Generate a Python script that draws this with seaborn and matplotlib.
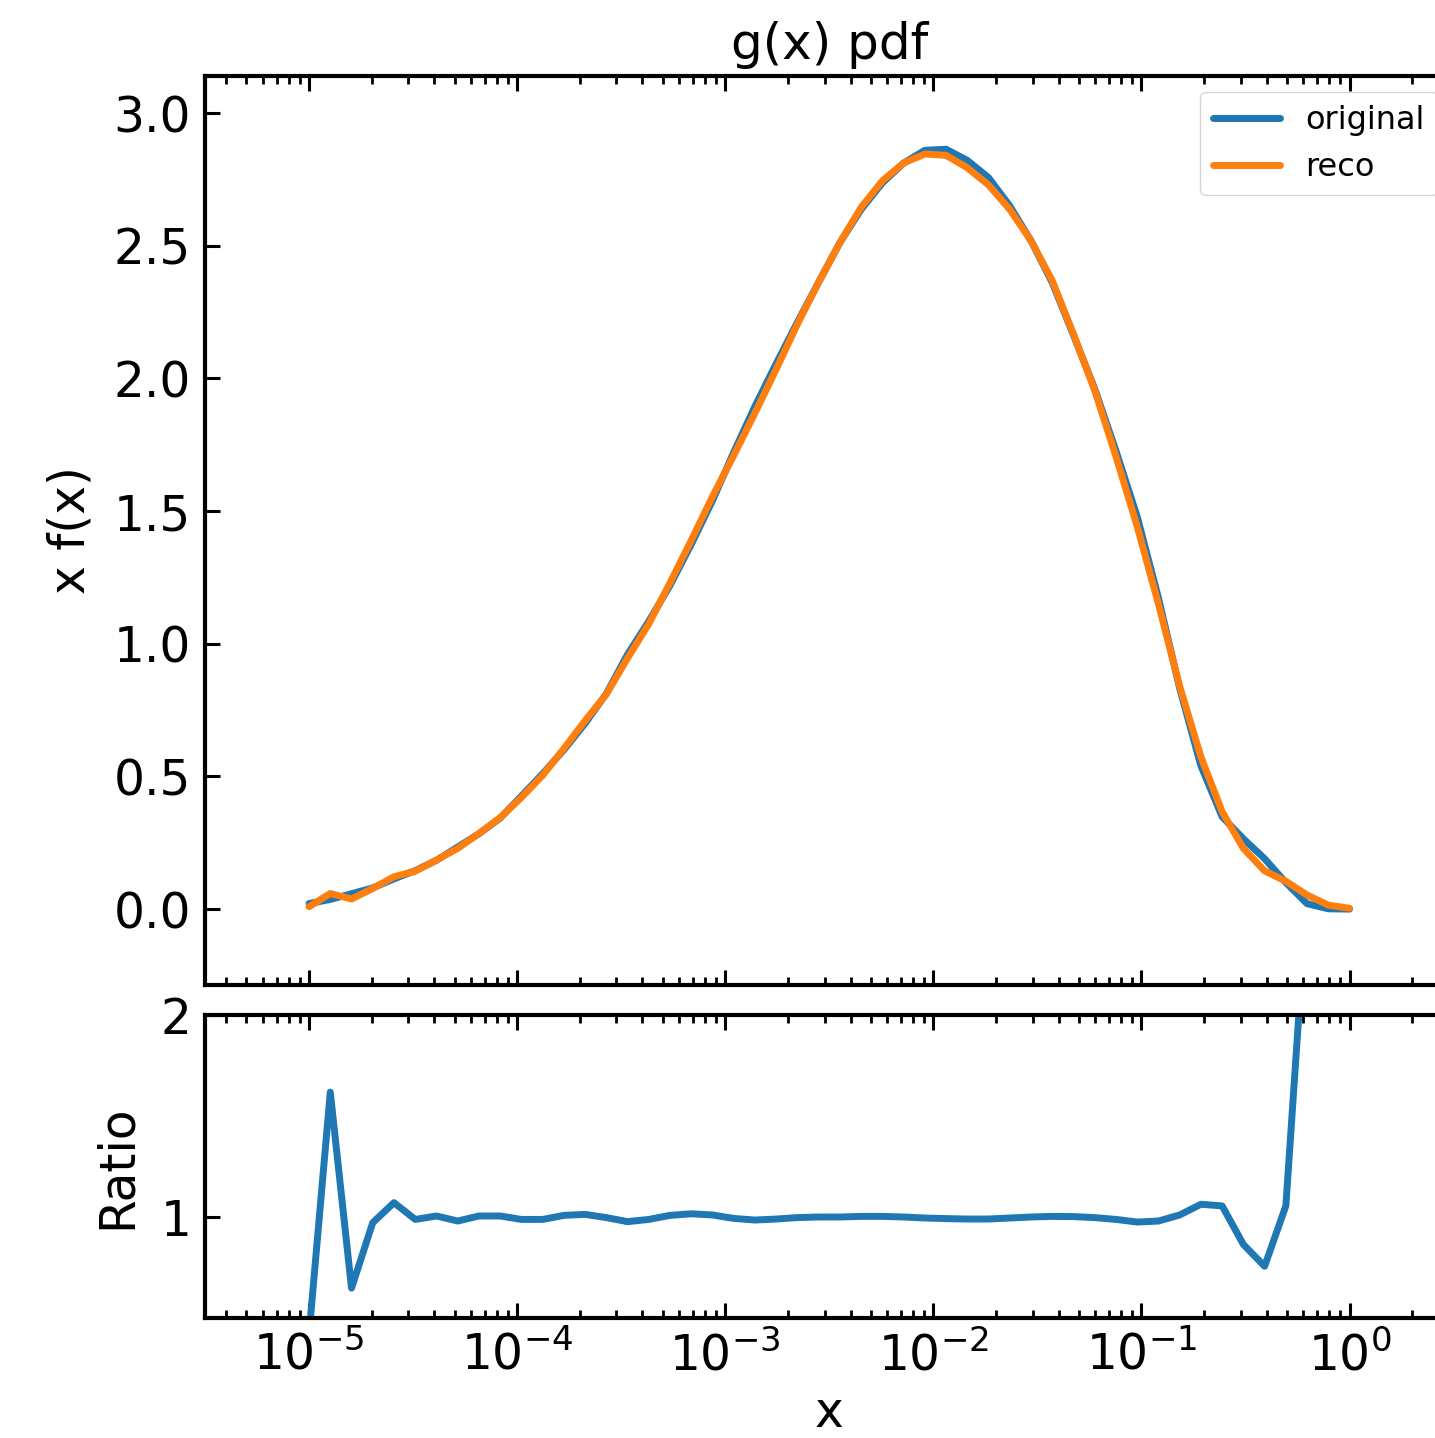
import numpy as np
import pandas as pd
import matplotlib
matplotlib.use("Agg")
import matplotlib.pyplot as plt
import seaborn as sns

# sampling grid: 50 log-spaced points from 1e-5 to 1
x = np.logspace(-5, 0, 50)

# x f(x), values
original = [0.021, 0.0365, 0.058, 0.080, 0.114, 0.145, 0.184, 0.234, 0.284, 0.343,
            0.426, 0.510, 0.600, 0.700, 0.812, 0.960, 1.085, 1.220, 1.375, 1.540,
            1.722, 1.895, 2.056, 2.212, 2.363, 2.512, 2.637, 2.737, 2.812, 2.860,
            2.864, 2.822, 2.757, 2.650, 2.519, 2.361, 2.163, 1.961, 1.727, 1.479,
            1.173, 0.832, 0.540, 0.348, 0.265, 0.190, 0.100, 0.0204, 0.0012, 0.0001]

reco = [0.009, 0.059, 0.038, 0.078, 0.122, 0.143, 0.185, 0.229, 0.285, 0.345,
        0.421, 0.504, 0.605, 0.710, 0.810, 0.946, 1.075, 1.230, 1.390, 1.555,
        1.710, 1.870, 2.035, 2.205, 2.363, 2.512, 2.645, 2.745, 2.812, 2.846,
        2.841, 2.794, 2.729, 2.637, 2.519, 2.368, 2.167, 1.955, 1.706, 1.442,
        1.150, 0.840, 0.574, 0.367, 0.229, 0.144, 0.105, 0.053, 0.015, 0.003]

# reco / original as drawn in the lower panel
ratio = [0.42, 1.618, 0.648, 0.972, 1.071, 0.988, 1.005, 0.980, 1.005, 1.005,
         0.988, 0.988, 1.008, 1.013, 0.997, 0.977, 0.988, 1.008, 1.016, 1.010,
         0.993, 0.985, 0.990, 0.997, 1.000, 1.000, 1.003, 1.003, 1.000, 0.995,
         0.992, 0.990, 0.990, 0.995, 1.000, 1.003, 1.002, 0.997, 0.988, 0.975,
         0.980, 1.010, 1.063, 1.055, 0.864, 0.756, 1.055, 2.6, 12.0, 30.0]

blue = "#1f77b4"
orange = "#ff7f0e"

sns.set_style("ticks")
plt.rcParams.update({
    "font.family": ["DejaVu Sans"],
    "text.color": "black",
    "axes.labelcolor": "black",
    "axes.edgecolor": "black",
    "xtick.color": "black",
    "ytick.color": "black",
    "axes.linewidth": 3.0,
    "xtick.major.width": 2.2,
    "ytick.major.width": 2.2,
    "xtick.minor.width": 2.0,
    "ytick.minor.width": 2.0,
    "xtick.major.size": 11,
    "ytick.major.size": 11,
    "xtick.minor.size": 5.5,
    "ytick.minor.size": 5.5,
})

W, H = 1435, 1438
fig = plt.figure(figsize=(W / 100, H / 100), dpi=100)
# axes run past the right edge of the figure, as in the reference crop
ax_top = fig.add_axes([205 / W, (H - 985) / H, 1248.6 / W, 909 / H])
ax_bot = fig.add_axes([205 / W, (H - 1318) / H, 1248.6 / W, 303 / H])

sns.lineplot(x=x, y=original, ax=ax_top, color=blue, lw=5, label="original")
sns.lineplot(x=x, y=reco, ax=ax_top, color=orange, lw=5, label="reco")
sns.lineplot(x=x, y=ratio, ax=ax_bot, color=blue, lw=5)

for ax in (ax_top, ax_bot):
    ax.set_xscale("log")
    ax.set_xlim(10 ** -5.5, 10 ** 0.5)
    ax.tick_params(which="both", direction="in", top=True, right=True,
                   labelsize=35, pad=10)

ax_top.set_ylim(-0.286, 3.14)
ax_top.set_yticks([0.0, 0.5, 1.0, 1.5, 2.0, 2.5, 3.0])
ax_top.tick_params(labelbottom=False)
ax_top.set_ylabel("x f(x)", fontsize=35, labelpad=14)
ax_top.set_xlabel("")
ax_top.set_title("g(x) pdf", fontsize=36, pad=12)
ax_top.legend(loc="upper right", fontsize=23, handlelength=2.1)

ax_bot.set_ylim(0.5, 2.0)
ax_bot.set_yticks([1, 2])
ax_bot.set_yticklabels(["1", "2"])
ax_bot.set_ylabel("Ratio", fontsize=35, labelpad=14)
ax_bot.set_xlabel("x", fontsize=35, labelpad=6)

fig.savefig("out.png", dpi=100)
